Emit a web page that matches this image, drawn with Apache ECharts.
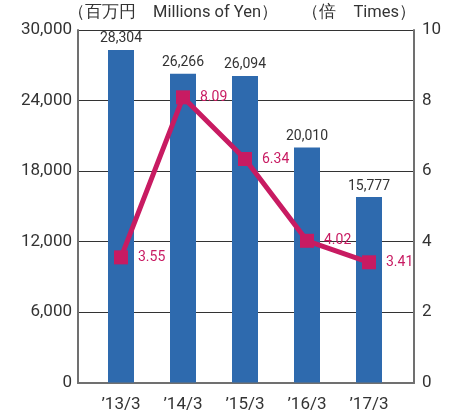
<!DOCTYPE html>
<html><head><meta charset="utf-8">
<script src="https://cdn.jsdelivr.net/npm/echarts@6/dist/echarts.min.js"></script>
<style>html,body{margin:0;padding:0;background:#fff}#c{width:456px;height:414px}</style>
</head><body><div id="c"></div>
<script>
const categories = ["’13/3", "’14/3", "’15/3", "’16/3", "’17/3"];
const salesValues = [28304, 26266, 26094, 20010, 15777];
const timesValues = [3.55, 8.09, 6.34, 4.02, 3.41];
const leftTicks = [0, 6000, 12000, 18000, 24000, 30000];
const rightTicks = [0, 2, 4, 6, 8, 10];
const leftUnit = "（百万円　Millions of Yen）";
const rightUnit = "（倍　Times）";

const blue = '#2e6aae', magenta = '#c81b62', frame = '#707070', grid = '#333';
const FONT = 'Roboto';
const chart = echarts.init(document.getElementById('c'));
const G = { top: 30, bottom: 31.5 };
chart.setOption({
  animation: false,
  textStyle: { fontFamily: FONT },
  grid: [
    { left: 78, right: 42, top: G.top, bottom: G.bottom },
    { left: 90, right: 56, top: G.top, bottom: G.bottom }
  ],
  graphic: [
    { type: 'text', left: 68, top: 4, style: { text: leftUnit, fontSize: 16.5, fill: '#333', fontFamily: FONT } },
    { type: 'text', right: 40, top: 4, style: { text: rightUnit, fontSize: 16.5, fill: '#333', fontFamily: FONT } }
  ],
  xAxis: [
    { gridIndex: 0, type: 'category', data: categories, position: 'bottom',
      axisLine: { show: true, lineStyle: { color: frame, width: 2 } }, axisTick: { show: false }, axisLabel: { show: false } },
    { gridIndex: 0, type: 'category', data: categories, position: 'top',
      axisLine: { show: true, lineStyle: { color: frame, width: 2 } }, axisTick: { show: false }, axisLabel: { show: false } },
    { gridIndex: 1, type: 'category', data: categories, boundaryGap: true,
      axisLine: { show: false }, axisTick: { show: false },
      axisLabel: { color: '#333', fontSize: 17, margin: 14, fontFamily: FONT } }
  ],
  yAxis: [
    { gridIndex: 0, type: 'value', min: leftTicks[0], max: leftTicks[leftTicks.length - 1], interval: leftTicks[1] - leftTicks[0],
      axisLine: { show: true, lineStyle: { color: frame, width: 2 } }, axisTick: { show: false },
      splitLine: { show: true, lineStyle: { color: grid, width: 1.2 } },
      axisLabel: { color: '#333', fontSize: 17, margin: 6, fontFamily: FONT,
        formatter: v => v.toLocaleString('en-US') } },
    { gridIndex: 0, type: 'value', position: 'right', min: rightTicks[0], max: rightTicks[rightTicks.length - 1], interval: rightTicks[1] - rightTicks[0],
      axisLine: { show: true, lineStyle: { color: frame, width: 2 } }, axisTick: { show: false },
      splitLine: { show: false },
      axisLabel: { color: '#333', fontSize: 17, margin: 8, fontFamily: FONT } },
    { gridIndex: 1, type: 'value', min: leftTicks[0], max: leftTicks[leftTicks.length - 1], show: false },
    { gridIndex: 1, type: 'value', min: rightTicks[0], max: rightTicks[rightTicks.length - 1], show: false }
  ],
  series: [
    { type: 'bar', xAxisIndex: 2, yAxisIndex: 2, data: salesValues, barWidth: 26,
      itemStyle: { color: blue },
      label: { show: true, position: 'top', distance: 4, color: '#333', fontSize: 14, fontFamily: FONT,
        formatter: p => p.value.toLocaleString('en-US') } },
    { type: 'line', xAxisIndex: 2, yAxisIndex: 3, data: timesValues, z: 5,
      lineStyle: { color: magenta, width: 5 }, itemStyle: { color: magenta },
      symbol: 'rect', symbolSize: 14,
      label: { show: true, position: 'right', distance: 10, color: magenta, fontSize: 14, fontFamily: FONT,
        formatter: p => p.value.toFixed(2) } }
  ]
});
</script></body></html>
